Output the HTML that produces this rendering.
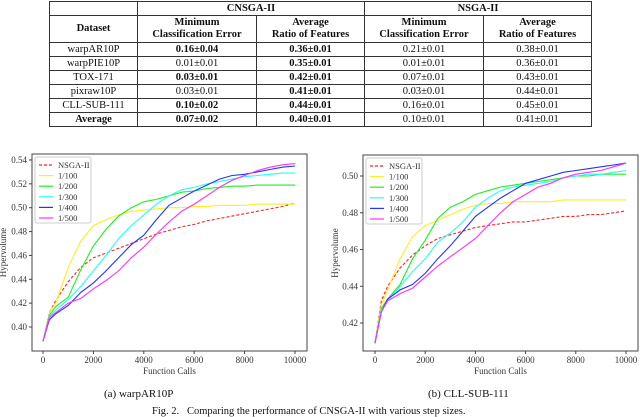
<!DOCTYPE html>
<html><head><meta charset="utf-8"><style>
body{margin:0;width:640px;height:414px;background:#fff;overflow:hidden;font-family:"Liberation Serif",serif;}
table{position:absolute;left:49px;top:1px;border-collapse:collapse;font-size:10.5px;color:#111;}
td,th{border:1px solid #333;text-align:center;padding:0;line-height:12px;}
th{font-weight:bold}
.b{font-weight:bold}
svg{position:absolute;left:0;top:0}
.cap{position:absolute;font-size:11px;color:#111;white-space:nowrap}
</style></head><body>
<table>
<colgroup><col style="width:88px"><col style="width:119px"><col style="width:108px"><col style="width:119px"><col style="width:108px"></colgroup>
<tr style="height:14px"><th></th><th colspan="2">CNSGA-II</th><th colspan="2">NSGA-II</th></tr>
<tr style="height:27px"><th>Dataset</th><th>Minimum<br>Classification Error</th><th>Average<br>Ratio of Features</th><th>Minimum<br>Classification Error</th><th>Average<br>Ratio of Features</th></tr>
<tr style="height:14px"><td>warpAR10P</td><td class="b">0.16±0.04</td><td class="b">0.36±0.01</td><td>0.21±0.01</td><td>0.38±0.01</td></tr>
<tr style="height:14px"><td>warpPIE10P</td><td>0.01±0.01</td><td class="b">0.35±0.01</td><td>0.01±0.01</td><td>0.36±0.01</td></tr>
<tr style="height:14px"><td>TOX-171</td><td class="b">0.03±0.01</td><td class="b">0.42±0.01</td><td>0.07±0.01</td><td>0.43±0.01</td></tr>
<tr style="height:14px"><td>pixraw10P</td><td>0.03±0.01</td><td class="b">0.41±0.01</td><td>0.03±0.01</td><td>0.44±0.01</td></tr>
<tr style="height:14px"><td>CLL-SUB-111</td><td class="b">0.10±0.02</td><td class="b">0.44±0.01</td><td>0.16±0.01</td><td>0.45±0.01</td></tr>
<tr style="height:14px"><td class="b">Average</td><td class="b">0.07±0.02</td><td class="b">0.40±0.01</td><td>0.10±0.01</td><td>0.41±0.01</td></tr>
</table>
<svg id="s" width="640" height="414"></svg>
<div class="cap" style="left:104px;top:388px">(a) warpAR10P</div>
<div class="cap" style="left:428px;top:388px">(b) CLL-SUB-111</div>
<div class="cap" style="left:152px;top:406px;font-size:10.5px">Fig. 2.&nbsp;&nbsp;&nbsp;Comparing the performance of CNSGA-II with various step sizes.</div>
<script>
const xs=[0,250,500,1000,1500,2000,2500,3000,3500,4000,4500,5000,5500,6000,6500,7000,7500,8000,8500,9000,9500,10000];
const seriesNames=["NSGA-II","1/100","1/200","1/300","1/400","1/500"];
const a_nsga=[0.388,0.412,0.422,0.438,0.450,0.458,0.462,0.466,0.470,0.474,0.478,0.481,0.484,0.486,0.489,0.491,0.493,0.495,0.497,0.499,0.501,0.504];
const a_100=[0.388,0.412,0.420,0.450,0.472,0.485,0.490,0.494,0.497,0.498,0.499,0.500,0.500,0.501,0.501,0.502,0.502,0.502,0.503,0.503,0.503,0.503];
const a_200=[0.388,0.410,0.417,0.425,0.448,0.468,0.482,0.493,0.500,0.505,0.507,0.510,0.513,0.514,0.516,0.517,0.518,0.518,0.519,0.519,0.519,0.519];
const a_300=[0.388,0.409,0.414,0.423,0.434,0.447,0.460,0.474,0.485,0.494,0.503,0.510,0.515,0.517,0.520,0.522,0.524,0.526,0.527,0.528,0.529,0.529];
const a_400=[0.388,0.406,0.411,0.418,0.429,0.437,0.447,0.458,0.469,0.477,0.490,0.502,0.508,0.514,0.519,0.524,0.527,0.528,0.530,0.532,0.534,0.535];
const a_500=[0.388,0.408,0.412,0.420,0.424,0.432,0.439,0.447,0.458,0.467,0.478,0.488,0.497,0.503,0.510,0.517,0.523,0.527,0.531,0.534,0.536,0.537];
const b_nsga=[0.409,0.432,0.440,0.450,0.457,0.462,0.466,0.468,0.470,0.472,0.473,0.474,0.475,0.475,0.476,0.477,0.478,0.478,0.479,0.479,0.480,0.481];
const b_100=[0.409,0.430,0.438,0.455,0.467,0.473,0.476,0.479,0.482,0.484,0.485,0.485,0.486,0.486,0.486,0.486,0.487,0.487,0.487,0.487,0.487,0.487];
const b_200=[0.409,0.428,0.433,0.441,0.455,0.465,0.477,0.483,0.486,0.490,0.492,0.494,0.495,0.496,0.497,0.498,0.499,0.500,0.500,0.501,0.501,0.501];
const b_300=[0.409,0.427,0.432,0.440,0.448,0.455,0.464,0.469,0.475,0.483,0.488,0.492,0.494,0.495,0.496,0.497,0.499,0.500,0.501,0.501,0.502,0.503];
const b_400=[0.409,0.426,0.433,0.438,0.441,0.447,0.455,0.462,0.470,0.478,0.483,0.488,0.492,0.496,0.498,0.500,0.502,0.503,0.504,0.505,0.506,0.507];
const b_500=[0.409,0.426,0.432,0.436,0.439,0.445,0.451,0.456,0.461,0.466,0.473,0.480,0.486,0.490,0.494,0.496,0.499,0.501,0.502,0.503,0.505,0.507];
const xTicks=[0,2000,4000,6000,8000,10000];
const aYTicks=[0.40,0.42,0.44,0.46,0.48,0.50,0.52,0.54];
const bYTicks=[0.42,0.44,0.46,0.48,0.50];
const colors=["#ff2222","#ffee22","#22ee22","#22ffff","#2233ff","#ff33ff"];
const svg=document.getElementById('s');
const NS="http://www.w3.org/2000/svg";
function mk(t,at,p){const e=document.createElementNS(NS,t);for(const k in at)e.setAttribute(k,at[k]);(p||svg).appendChild(e);return e;}
function chart(cfg){
  const g=mk('g',{});
  
  
  const X=v=>cfg.x0+(v/10000)*(cfg.x1-cfg.x0);
  const Y=v=>cfg.yA+(v-cfg.vA)/(cfg.vB-cfg.vA)*(cfg.yB-cfg.yA);
  const fr=mk('rect',{x:cfg.L,y:cfg.T,width:cfg.R-cfg.L,height:cfg.B-cfg.T,fill:'none',stroke:'#444','stroke-width':1},g);
  
  
  xTicks.forEach(t=>{
    mk('line',{x1:X(t),x2:X(t),y1:cfg.B,y2:cfg.B+3,stroke:'#444'},g);
    const tx=mk('text',{x:X(t),y:cfg.B+12,'font-size':9,'text-anchor':'middle',fill:'#333'},g);
    tx.textContent=t;
    
    
  });
  cfg.yTicks.forEach(t=>{
    mk('line',{x1:cfg.L-3,x2:cfg.L,y1:Y(t),y2:Y(t),stroke:'#444'},g);
    const tx=mk('text',{x:cfg.L-5,y:Y(t)+3,'font-size':9,'text-anchor':'end',fill:'#333'},g);
    tx.textContent=t.toFixed(2);
    
    
  });
  const xl=mk('text',{x:(cfg.L+cfg.R)/2,y:cfg.B+23,'font-size':9,'text-anchor':'middle',fill:'#333'},g);
  xl.textContent='Function Calls';
  
  
  const yl=mk('text',{x:0,y:0,'font-size':9,'text-anchor':'middle',fill:'#333',transform:`translate(${cfg.ylx},${(cfg.T+cfg.B)/2}) rotate(-90)`},g);
  yl.textContent='Hypervolume';
  
  
  cfg.series.forEach((s,i)=>{
    const d=s.map((v,j)=>(j?'L':'M')+X(xs[j]).toFixed(1)+','+Y(v).toFixed(1)).join('');
    const p=mk('path',{d:d,fill:'none',stroke:colors[i],'stroke-width':1.1,'stroke-dasharray':i==0?'3,2':'none'},g);
    
    
  });
  const lg=mk('g',{},g);
  
  
  mk('rect',{x:cfg.L+3,y:cfg.T+3,width:56,height:66,fill:'#fff',stroke:'#ccc',rx:2},lg);
  seriesNames.forEach((n,i)=>{
    const yy=cfg.T+11+i*10.6;
    mk('line',{x1:cfg.L+7,x2:cfg.L+21,y1:yy,y2:yy,stroke:colors[i],'stroke-width':1.2,'stroke-dasharray':i==0?'3,2':'none'},lg);
    const t=mk('text',{x:cfg.L+26,y:yy+3,'font-size':8.5,fill:'#333'},lg);
    t.textContent=n;
    
    
  });
}
chart({name:'chart-warpar10p',L:32,R:307,T:154,B:351,x0:43,x1:295,vA:0.40,yA:327,vB:0.54,yB:160,yTicks:aYTicks,ylx:6,series:[a_nsga,a_100,a_200,a_300,a_400,a_500]});
chart({name:'chart-cll-sub-111',L:363,R:638,T:155,B:351,x0:375,x1:626,vA:0.42,yA:323,vB:0.50,yB:176,yTicks:bYTicks,ylx:338,series:[b_nsga,b_100,b_200,b_300,b_400,b_500]});
</script>
</body></html>
